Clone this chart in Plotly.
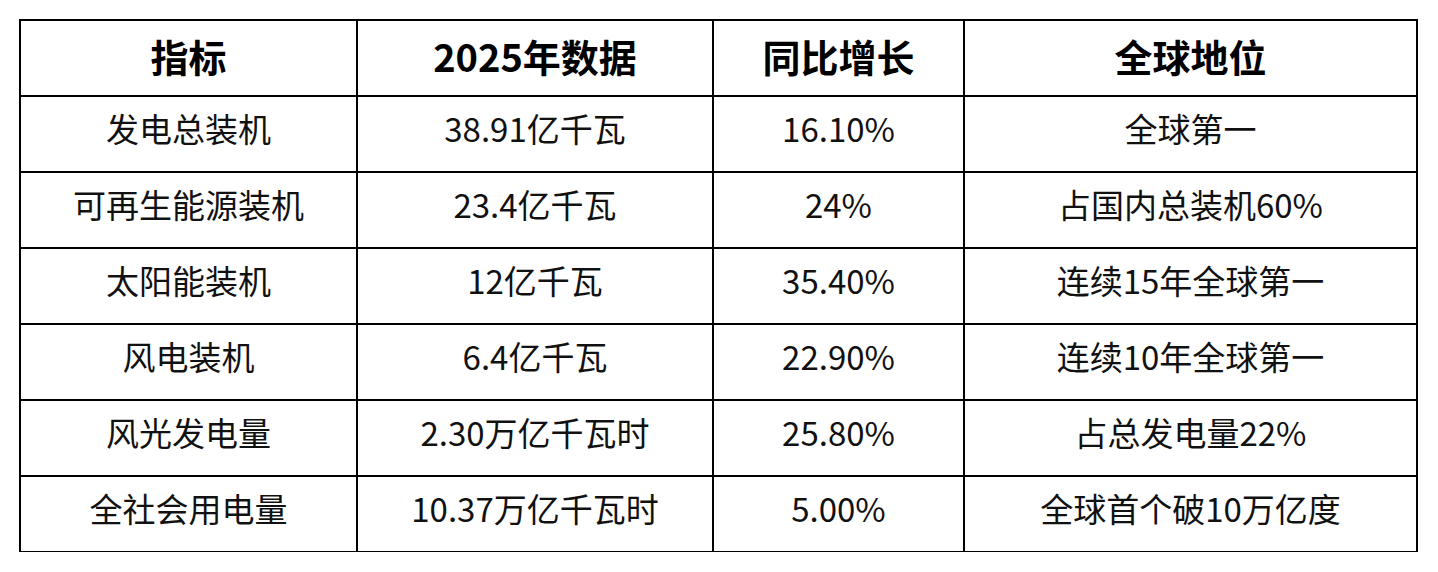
import plotly.graph_objects as go

# table contents
header = ['指标', '2025年数据', '同比增长', '全球地位']
indicators = ['发电总装机', '可再生能源装机', '太阳能装机', '风电装机', '风光发电量', '全社会用电量']
data_2025 = ['38.91亿千瓦', '23.4亿千瓦', '12亿千瓦', '6.4亿千瓦', '2.30万亿千瓦时', '10.37万亿千瓦时']
yoy_growth = ['16.10%', '24%', '35.40%', '22.90%', '25.80%', '5.00%']
global_rank = ['全球第一', '占国内总装机60%', '连续15年全球第一', '连续10年全球第一', '占总发电量22%', '全球首个破10万亿度']

W, H = 1438, 572
OFF = 8  # page body margin
FONT = 'Noto Sans CJK SC, Microsoft YaHei, sans-serif'


def wrap(vals):
	# html-wrapped text sits lower in the cell, closer to centred
	return ['<span>%s</span>' % v for v in vals]


fig = go.Figure()
fig.add_trace(go.Table(
	domain={'x': [(20 - OFF) / W, (1417 - OFF) / W], 'y': [1 - (552 - OFF) / H, 1 - (20 - OFF) / H]},
	columnwidth=[337, 356, 251, 453],
	header={'values': ['<b>%s</b>' % h for h in header],
			'align': 'center',
			'height': 76,
			'line': {'color': 'black', 'width': 2},
			'fill': {'color': 'white'},
			'font': {'family': FONT, 'size': 38, 'color': 'black'}},
	cells={'values': [wrap(indicators), wrap(data_2025), wrap(yoy_growth), wrap(global_rank)],
		   'align': 'center',
		   'height': 76,
		   'line': {'color': 'black', 'width': 2},
		   'fill': {'color': 'white'},
		   'font': {'family': FONT, 'size': 33, 'color': '#111111'}},
))

fig.update_layout(width=W, height=H,
				  margin={'l': 0, 'r': 0, 't': 0, 'b': 0},
				  paper_bgcolor='white', plot_bgcolor='white')

fig.write_html("out.html")
